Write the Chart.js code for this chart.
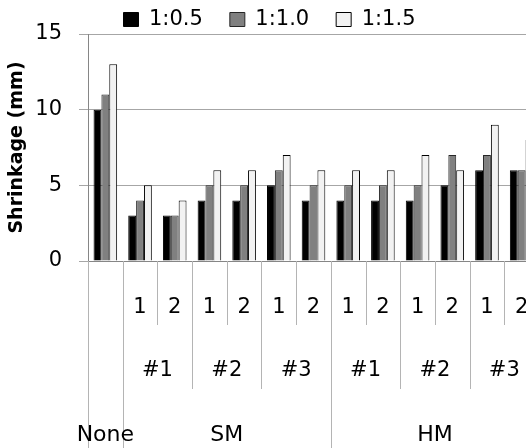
<!DOCTYPE html>
<html>
<head>
<meta charset="utf-8">
<script src="https://cdn.jsdelivr.net/npm/chart.js@4.4.1/dist/chart.umd.min.js"></script>
<style>
  html, body { margin: 0; padding: 0; overflow: hidden; background: #fff; width: 526px; height: 448px; }
  canvas { display: block; }
</style>
</head>
<body>
<canvas id="c" width="552" height="448"></canvas>
<script>
// ---- data ----
const level1 = ['', '1', '2', '1', '2', '1', '2', '1', '2', '1', '2', '1', '2'];
const level2 = ['', '#1', '#1', '#2', '#2', '#3', '#3', '#1', '#1', '#2', '#2', '#3', '#3'];
const level3 = ['None', 'SM', 'SM', 'SM', 'SM', 'SM', 'SM', 'HM', 'HM', 'HM', 'HM', 'HM', 'HM'];
const seriesNames = ['1:0.5', '1:1.0', '1:1.5'];
const ratio05 = [10, 3, 3, 4, 4, 5, 4, 4, 4, 4, 5, 6, 6];
const ratio10 = [11, 4, 3, 5, 5, 6, 5, 5, 5, 5, 7, 7, 6];
const ratio15 = [13, 5, 4, 6, 6, 7, 6, 6, 6, 7, 6, 9, 8];
const yTicks = [0, 5, 10, 15];

const labels = level1.map((l, i) => [level3[i], level2[i], l].filter(s => s).join(' '));

Chart.defaults.font.family = '"DejaVu Sans", sans-serif';
Chart.defaults.color = '#000';

const FONT = 21;
const LEG_PAD = 27;

const multiLevelAxis = {
  id: 'multiLevelAxis',
  afterDraw(chart) {
    const xs = chart.scales.x;
    const ctx = chart.ctx;
    const n = level1.length;
    const w = xs.width / n;
    const top = xs.top;
    const bottom = chart.height;
    const edge = i => xs.left + i * w;
    ctx.save();
    ctx.strokeStyle = '#b4b4b4';
    ctx.lineWidth = 1;
    for (let i = 0; i <= n; i++) {
      let end;
      if (i === 0 || i === n || level3[i] !== level3[i - 1]) end = bottom;
      else if (level2[i] !== level2[i - 1]) end = top + 128;
      else end = top + 64;
      const x = Math.round(edge(i)) + 0.5;
      ctx.beginPath();
      ctx.moveTo(x, top);
      ctx.lineTo(x, end);
      ctx.stroke();
    }
    ctx.fillStyle = '#000';
    ctx.textAlign = 'center';
    ctx.textBaseline = 'middle';
    ctx.font = FONT + 'px "DejaVu Sans", sans-serif';
    for (let i = 0; i < n; i++) {
      if (level1[i]) ctx.fillText(level1[i], xs.getPixelForValue(i), top + 47);
    }
    const spans = (arr, y) => {
      let s = 0;
      for (let i = 1; i <= n; i++) {
        if (i === n || arr[i] !== arr[s] || (arr === level2 && level3[i] !== level3[s])) {
          if (arr[s]) ctx.fillText(arr[s], (edge(s) + edge(i)) / 2, y);
          s = i;
        }
      }
    };
    spans(level2, top + 110);
    ctx.font = '22px "DejaVu Sans", sans-serif';
    spans(level3, top + 174);
    ctx.restore();
  }
};

new Chart(document.getElementById('c'), {
  type: 'bar',
  data: {
    labels: labels,
    datasets: [
      { label: seriesNames[0], data: ratio05, backgroundColor: '#000000', borderColor: '#000000', borderWidth: 1 },
      { label: seriesNames[1], data: ratio10, backgroundColor: '#808080', borderColor: '#262626', borderWidth: 1 },
      { label: seriesNames[2], data: ratio15, backgroundColor: '#f2f2f2', borderColor: '#000000', borderWidth: 1 }
    ]
  },
  options: {
    responsive: false,
    animation: false,
    devicePixelRatio: 1,
    layout: { padding: { left: 0, right: 13, top: -(LEG_PAD - 9), bottom: 0 } },
    datasets: { bar: { categoryPercentage: 0.68, barPercentage: 1.0 } },
    plugins: {
      legend: {
        position: 'top',
        align: 'center',
        maxHeight: 34 + (LEG_PAD - 9),
        labels: {
          boxWidth: 15,
          boxHeight: 14,
          padding: LEG_PAD,
          font: { size: FONT },
          color: '#000'
        }
      },
      tooltip: { enabled: false }
    },
    scales: {
      x: {
        type: 'category',
        offset: true,
        grid: { display: false, drawTicks: false },
        ticks: { display: false },
        border: { display: true, color: '#868686', width: 1 },
        afterFit(scale) { scale.height = 187; }
      },
      y: {
        min: 0,
        max: 15,
        afterBuildTicks(scale) { scale.ticks = yTicks.map(v => ({ value: v })); },
        ticks: { font: { size: FONT }, padding: 17, color: '#000' },
        grid: { color: '#a6a6a6', tickLength: 9, drawTicks: true },
        border: { display: true, color: '#868686', width: 1 },
        title: {
          display: true,
          text: 'Shrinkage (mm)',
          font: { size: 19, weight: 'bold' },
          padding: { top: 6, bottom: 0 },
          color: '#000'
        },
        afterFit(scale) { scale.width = 88; }
      }
    }
  },
  plugins: [multiLevelAxis]
});
</script>
</body>
</html>
